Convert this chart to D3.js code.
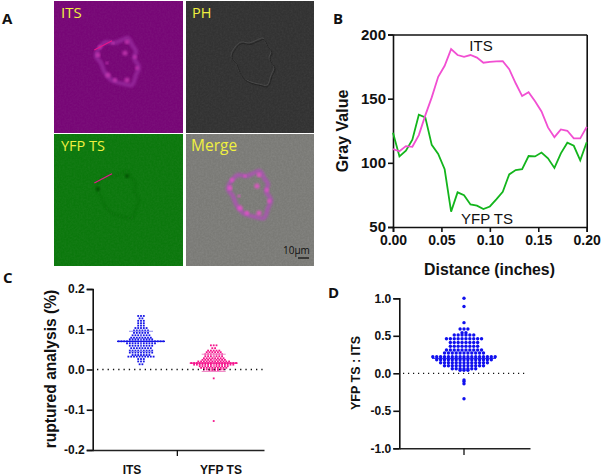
<!DOCTYPE html>
<html><head><meta charset="utf-8">
<script src="https://cdn.jsdelivr.net/npm/d3@7"></script>
<style>
html,body{margin:0;padding:0;background:#fff}
svg{display:block}
text{font-family:"Liberation Sans",Arial,sans-serif;fill:#111}
.tick text{font-weight:700}
.lab{font-family:"Open Sans",sans-serif}
</style></head><body>
<svg id="c" width="602" height="476"></svg>
<script>
// Panel A
const panelNames=["ITS","PH","YFP TS","Merge"];
const panelFills=["#770676","#323232","#0b780c","#7a7a76"];
const cellOutline=[[46,46],[52,41],[60,42],[68,39],[74,37],[78,44],[82,50],[80,57],[85,66],[82,74],[78,84],[70,83],[62,81],[56,78],[50,70],[47,62],[42,55]];
const cellSpots=[[44,54,2.5],[53,62,1.6],[54,74,2.6],[61,79,2.2],[73,79,2.6],[83,67,2],[81,56,2],[73,41,2.4],[71,52,2.6],[59,42,1.6],[46,46,2]];
// Panel B
const distance=d3.range(31).map(i=>i/150);
const itsProfile=[110.7,109,113,112.5,121.6,137,151,167,175.6,188.6,184,182.6,184,182,178,178.7,179,179.2,173,162,152,155,148,140,127.6,120,126,125,119,119,128];
const yfpProfile=[123.4,105,109.4,118,137.5,135.4,114,107,95,62,77,74.7,67.6,66.6,64,66,71.5,77.5,91,94.4,95,105.3,105,108,103.5,96,107.4,115.7,113.3,102,116];
// Panel C: value of each row of the swarm and how many points sit on it
const cCategories=["ITS","YFP TS"];
const itsRows=[.133,.127,.121,.115,.109,.103,.097,.091,.085,.079,.075,.07,.065,.059,.053,.047,.042,.036,.032,.026,.02,.013];
const itsCounts=[3,2,3,3,3,5,6,6,7,8,9,17,11,9,8,9,9,7,10,3,3,2];
const yfpRows=[.06,.053,.047,.043,.038,.033,.028,.024,.02,.016,.012,.008,.004,0,-.004,-.022,-.128];
const yfpCounts=[3,2,5,6,7,7,8,9,12,17,15,11,10,8,4,1,1];
const itsSummary=[.045,.07,.095];
const yfpSummary=[-.005,.016,.038];
// Panel D
const ratioRows=[1,.89,.675,.59,.54,.51,.46,.41,.36,.31,.27,.22,.18,.14,.1,.06,.04,-.09,-.11,-.14,-.34];
const ratioCounts=[1,1,1,3,2,6,10,8,8,10,11,17,15,13,11,7,3,1,1,1,1];

const svg=d3.select("#c");
const defs=svg.append("defs");
const noise=defs.append("filter").attr("id","grain").attr("x",0).attr("y",0).attr("width","100%").attr("height","100%");
noise.append("feTurbulence").attr("type","fractalNoise").attr("baseFrequency",.55).attr("numOctaves",2).attr("seed",4).attr("result","n");
noise.append("feColorMatrix").attr("in","n").attr("type","matrix").attr("values","0 0 0 0 .5  0 0 0 0 .5  0 0 0 0 .5  .5 0 0 0 -.14");
defs.append("filter").attr("id","soft").append("feGaussianBlur").attr("stdDeviation",1.3);
defs.append("filter").attr("id","soft2").append("feGaussianBlur").attr("stdDeviation",.5);

const panelLabel=(t,x,y)=>svg.append("text").attr("class","lab").attr("x",x).attr("y",y).attr("font-size",15).attr("font-weight",700).style("fill","#111").text(t);
panelLabel("A",2,24);panelLabel("B",333,24);panelLabel("C",3,283);panelLabel("D",328,298);

// --- A: micrograph panels
const cols=d3.scalePoint().domain([0,1]).range([54,186]);
const rows=d3.scalePoint().domain([0,1]).range([1,134]);
const line=d3.line().curve(d3.curveCatmullRomClosed);
const grainLevel=[.2,.22,.2,.5];
const labelSize=[15,14.5,14.5,15.5];
const labelX=[7,6,7,5];
panelNames.forEach((name,i)=>{
  const g=svg.append("g").attr("transform",`translate(${cols(i%2)},${rows(i>>1)})`);
  g.append("rect").attr("width",i%2?128:129).attr("height",132).attr("fill",panelFills[i]);
  g.append("rect").attr("width",i%2?128:129).attr("height",132).attr("fill","#fff").attr("filter","url(#grain)").attr("opacity",grainLevel[i]);
  if(i===0||i===3){
    g.append("path").attr("d",line(cellOutline)).attr("fill","none").attr("stroke",i?"#b050b8":"#9a2aa0").attr("stroke-width",4.5).attr("opacity",.75).attr("filter","url(#soft)");
    g.selectAll(null).data(cellSpots).join("circle").attr("cx",d=>d[0]).attr("cy",d=>d[1]).attr("r",d=>d[2])
      .attr("fill",i?"#f050d0":"#c83ab4").attr("opacity",.8).attr("filter","url(#soft)");
  }
  if(i===1){
    g.append("path").attr("d",line(cellOutline.map(p=>[p[0]+3,p[1]]))).attr("fill","none").attr("stroke","#4c4c4c").attr("stroke-width",.9).attr("filter","url(#soft2)");
    g.append("path").attr("d",line(cellOutline.map(p=>[p[0]+4,p[1]+1.5]))).attr("fill","none").attr("stroke","#242424").attr("stroke-width",.9).attr("filter","url(#soft2)");
  }
  if(i===2){
    g.append("path").attr("d",line(cellOutline)).attr("fill","none").attr("stroke","#0a6a0a").attr("stroke-width",1.6).attr("opacity",.55).attr("filter","url(#soft)");
    g.selectAll(null).data([cellSpots[0],cellSpots[7]]).join("circle").attr("cx",d=>d[0]).attr("cy",d=>d[1]+1).attr("r",2).attr("fill","#055005").attr("filter","url(#soft)");
  }
  if(i===0||i===2){
    g.append("line").attr("x1",40.3).attr("y1",49).attr("x2",58).attr("y2",39.7).attr("stroke","#e8158c").attr("stroke-width",1.2);
  }
  g.append("text").attr("class","lab").attr("x",labelX[i]).attr("y",17).attr("font-size",labelSize[i]).style("fill","#f0f040").text(name);
});
svg.append("text").attr("class","lab").attr("x",283).attr("y",254).attr("font-size",10).style("fill","#111").text("10µm");
svg.append("line").attr("x1",298).attr("x2",309).attr("y1",258).attr("y2",258).attr("stroke","#111").attr("stroke-width",1.3);

function styleAxis(g,size){
  g.selectAll("path.domain,line").attr("stroke","#111").attr("stroke-width",1.6);
  g.selectAll("text").attr("font-size",size).style("fill","#111");
}

// --- B: line profile
const xB=d3.scaleLinear().domain([0,.2]).range([393,586.7]);
const yB=d3.scaleLinear().domain([50,200]).range([227,34.5]);
const gL=svg.append("g").attr("transform",`translate(393,0)`).call(d3.axisLeft(yB).tickValues([50,100,150,200]).tickSize(5).tickPadding(2));
const gX=svg.append("g").attr("transform",`translate(0,227)`).call(d3.axisBottom(xB).tickValues([0,.05,.1,.15,.2]).tickFormat(d3.format(".2f")).tickSize(5).tickPadding(3));
styleAxis(gL,15);styleAxis(gX,14);
svg.append("g").attr("transform","translate(586.7,0)").call(d3.axisRight(yB).tickValues([]).tickSizeOuter(0)).select("path").attr("stroke","#111").attr("stroke-width",1.6);
svg.append("g").attr("transform","translate(0,34.5)").call(d3.axisTop(xB).tickValues([]).tickSizeOuter(0)).select("path").attr("stroke","#111").attr("stroke-width",1.6);
const lineB=d3.line().x((d,i)=>xB(distance[i])).y(d=>yB(d));
svg.append("path").datum(yfpProfile).attr("d",lineB).attr("fill","none").attr("stroke","#13b51c").attr("stroke-width",1.8);
svg.append("path").datum(itsProfile).attr("d",lineB).attr("fill","none").attr("stroke","#f14fd2").attr("stroke-width",1.8);
svg.append("text").attr("x",481).attr("y",51).attr("text-anchor","middle").attr("font-size",15).text("ITS");
svg.append("text").attr("x",487).attr("y",224).attr("text-anchor","middle").attr("font-size",15).text("YFP TS");
svg.append("text").attr("x",489.5).attr("y",275).attr("text-anchor","middle").attr("font-size",15.8).attr("font-weight",700).text("Distance (inches)");
svg.append("text").attr("transform","translate(348,131) rotate(-90)").attr("text-anchor","middle").attr("font-size",16).attr("font-weight",700).text("Gray Value");

// swarm helper: one row of points, centred on the category
function swarm(g,rowVals,counts,cx,y,step,draw){
  rowVals.forEach((v,r)=>{
    d3.range(counts[r]).forEach(k=>draw(g,cx+(k-(counts[r]-1)/2)*step,y(v)));
  });
}

// --- C
const xC=d3.scalePoint().domain(cCategories).range([141,213.7]);
const xCLabels=d3.scalePoint().domain(cCategories).range([132,221]);
const yC=d3.scaleLinear().domain([-.2,.2]).range([450,289]);
const cAxis=svg.append("g").attr("transform","translate(92.7,0)").call(d3.axisLeft(yC).tickValues([-.2,-.1,0,.1,.2]).tickFormat(d3.format(".1f")).tickSize(6).tickPadding(2));
styleAxis(cAxis,12);
cAxis.selectAll("text").text(d=>d3.format(".1f")(d).replace("−","-"));
const xCa=d3.scaleLinear().domain([0,1]).range([92.7,264]);
const cBase=svg.append("g").attr("transform","translate(0,450)").call(d3.axisBottom(xCa).tickValues([]).tickSizeOuter(0));
cBase.select("path").attr("stroke","#222").attr("stroke-width",1.6);
const cMid=(xC(cCategories[0])+xC(cCategories[1]))/2;
svg.append("line").attr("x1",cMid).attr("x2",cMid).attr("y1",450).attr("y2",456).attr("stroke","#111").attr("stroke-width",1.3);
cCategories.forEach(c=>svg.append("text").attr("x",xCLabels(c)).attr("y",474).attr("text-anchor","middle").attr("font-size",12).attr("font-weight",700).text(c));
svg.append("text").attr("transform","translate(56,369) rotate(-90)").attr("text-anchor","middle").attr("font-size",15.6).attr("font-weight",700).text("ruptured analysis (%)");
const square=color=>(g,x,y)=>g.append("rect").attr("x",x-.9).attr("y",y-.9).attr("width",1.8).attr("height",1.8).attr("fill",color);
function summary(g,vals,cx,color,line2){
  g.append("line").attr("x1",cx).attr("x2",cx).attr("y1",yC(vals[0])).attr("y2",yC(vals[2])).attr("stroke",line2).attr("stroke-width",1);
  [0,2].forEach(i=>g.append("line").attr("x1",cx-12).attr("x2",cx+12).attr("y1",yC(vals[i])).attr("y2",yC(vals[i])).attr("stroke",line2).attr("stroke-width",1));
  g.append("line").attr("x1",cx-24).attr("x2",cx+24).attr("y1",yC(vals[1])).attr("y2",yC(vals[1])).attr("stroke",color).attr("stroke-width",1.2);
}
const gC=svg.append("g");
swarm(gC,itsRows,itsCounts,xC("ITS"),yC,2.8,square("#1414e6"));
summary(gC,itsSummary,xC("ITS"),"#1414e6","#8c8cf0");
swarm(gC,yfpRows,yfpCounts,xC("YFP TS"),yC,2.8,square("#f5148c"));
summary(gC,yfpSummary,xC("YFP TS"),"#f5148c","#f08cc8");
svg.append("line").attr("x1",97).attr("x2",263).attr("y1",yC(0)).attr("y2",yC(0)).attr("stroke","#111").attr("stroke-width",1.3).attr("stroke-dasharray","1.3 4");

// --- D
const yD=d3.scaleLinear().domain([-1,1]).range([448.3,298.3]);
const xD=d3.scaleLinear().domain([0,1]).range([399.3,530]);
const dAxis=svg.append("g").attr("transform","translate(399.3,0)").call(d3.axisLeft(yD).tickValues([-1,-.5,0,.5,1]).tickFormat(d3.format(".1f")).tickSize(6).tickPadding(2));
styleAxis(dAxis,12);
dAxis.selectAll("text").text(d=>d3.format(".1f")(d).replace("−","-"));
svg.append("g").attr("transform","translate(0,448.3)").call(d3.axisBottom(xD).tickValues([]).tickSizeOuter(0)).select("path").attr("stroke","#222").attr("stroke-width",1.6);
svg.append("line").attr("x1",464).attr("x2",464).attr("y1",448.3).attr("y2",455).attr("stroke","#111").attr("stroke-width",1.3);
svg.append("text").attr("transform","translate(360,373) rotate(-90)").attr("text-anchor","middle").attr("font-size",12.5).attr("font-weight",700).text("YFP TS : ITS");
const gD=svg.append("g");
swarm(gD,ratioRows,ratioCounts,464,yD,3.9,(g,x,y)=>g.append("circle").attr("cx",x).attr("cy",y).attr("r",1.7).attr("fill","#1010ee"));
gD.append("line").attr("x1",432).attr("x2",496).attr("y1",yD(.2)).attr("y2",yD(.2)).attr("stroke","#1010ee").attr("stroke-width",1);
svg.append("line").attr("x1",403).attr("x2",527).attr("y1",yD(0)).attr("y2",yD(0)).attr("stroke","#111").attr("stroke-width",1.2).attr("stroke-dasharray","1.2 3.8");
</script></body></html>
